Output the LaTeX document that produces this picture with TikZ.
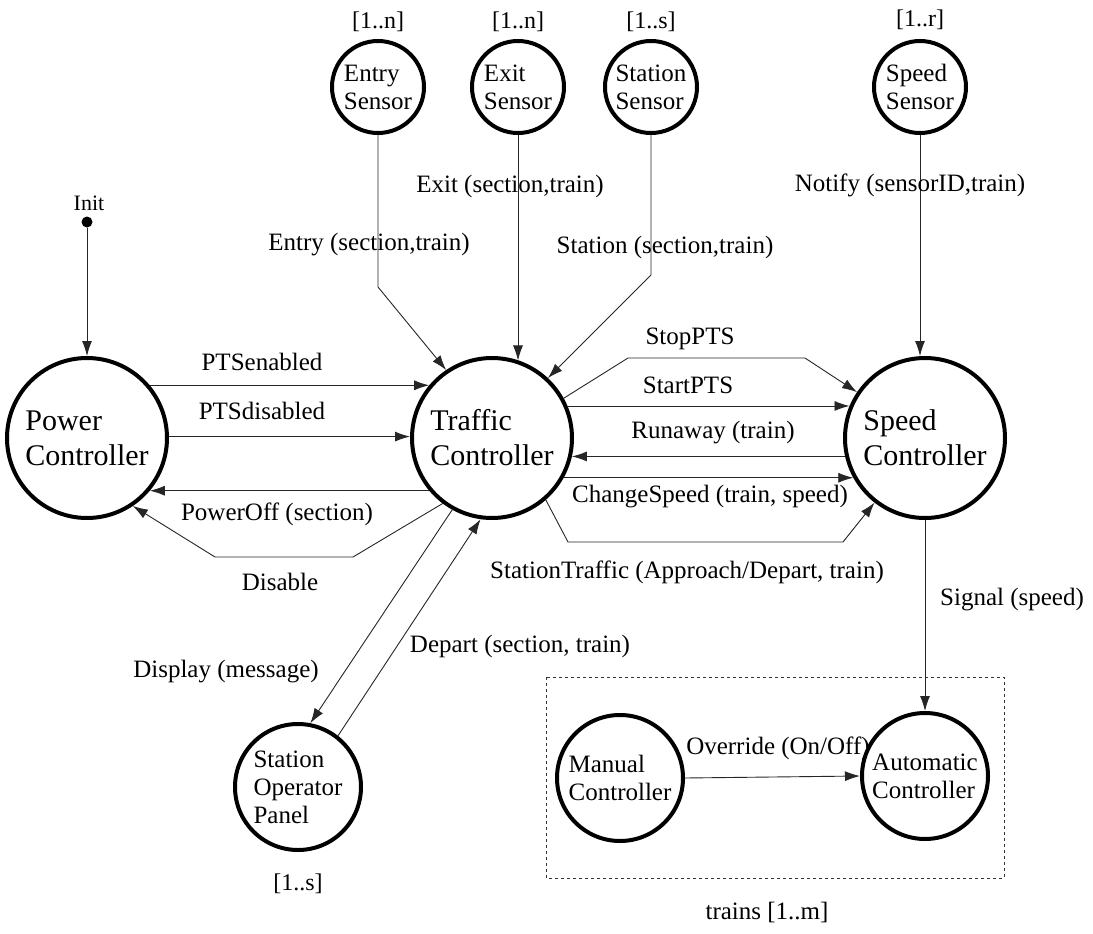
\documentclass[tikz,border=0pt]{standalone}
\usepackage{fontspec}
\setmainfont{Liberation Serif}
\usetikzlibrary{arrows.meta}
\begin{document}
\begin{tikzpicture}[x=1pt,y=-1pt,
  bigproc/.style={circle, draw, line width=4pt, minimum size=160pt, inner sep=0pt, align=left, font=\fontsize{30}{35}\selectfont},
  midproc/.style={circle, draw, line width=4pt, minimum size=126pt, inner sep=0pt, align=left, font=\fontsize{25}{28}\selectfont},
  sensor/.style={circle, draw, line width=4pt, minimum size=92pt, inner sep=0pt, align=left, font=\fontsize{25}{28}\selectfont},
  lbl/.style={inner sep=0pt, font=\fontsize{25}{30}\selectfont},
  mult/.style={inner sep=0pt, font=\fontsize{24}{28}\selectfont},
  msg/.style={line width=0.9pt, black!85, -{Latex[length=15pt,width=10pt]}}]
\useasboundingbox (0,0) rectangle (1093,934);

% processes
\node[bigproc] (P) at (87,438) {Power\\Controller};
\node[bigproc] (T) at (492,438) {Traffic\\Controller};
\node[bigproc] (S) at (925,438) {Speed\\Controller};

% sensors
\node[sensor] (ens) at (378,87) {Entry\\Sensor};
\node[sensor] (xs)  at (518,87) {Exit\\Sensor};
\node[sensor] (ss)  at (651,87) {Station\\Sensor};
\node[sensor] (sps) at (920,87) {Speed\\Sensor};
\node[mult] (m1) at (378,22) {[1..n]};
\node[mult] (m2) at (518,22) {[1..n]};
\node[mult] (m3) at (651,22) {[1..s]};
\node[mult] (m4) at (920,20) {[1..r]};

% station operator panel
\node[midproc] (D) at (298,787) {Station\\Operator\\Panel};
\node[mult] (m5) at (298,884) {[1..s]};

% train controllers
\draw[black!80, line width=0.8pt, dashed] (546,677) rectangle (1004,878);
\node[midproc] (M) at (620,778) {Manual\\Controller};
\node[midproc] (A) at (925,776) {Automatic\\Controller};
\node[lbl] (trains) at (767,912) {trains [1..m]};

% initial state
\node[circle, fill=black, inner sep=0pt, minimum size=11pt] (init) at (87,222) {};
\node[inner sep=0pt, font=\fontsize{22}{26}\selectfont] (initl) at (89,203) {Init};
\draw[msg] (init) -- (P.north);

% sensor messages
\draw[msg] (ens.south) -- ++(0,152) -- (T.124);
\draw[msg] (xs.south) -- (xs.south |- T.71);
\draw[msg] (ss.south) -- ++(0,140) -- (T.47);
\draw[msg] (sps.south) -- (sps.south |- S.north);
\node[lbl] (lentry) at (369,245) {Entry (section,train)};
\node[lbl] (lexit) at (510,186) {Exit (section,train)};
\node[lbl] (lstation) at (665,247) {Station (section,train)};
\node[lbl] (lnotify) at (910,185) {Notify (sensorID,train)};

% power controller <-> traffic controller
\draw[msg] (P.40) -- (T.140);
\draw[msg] (P.1) -- (T.179);
\draw[msg] (T.220) -- (P.320);
\draw[msg] (T.233) -- (353,557) -- (215,557) -- (P.304);
\node[lbl] (lenabled) at (262,362) {PTSenabled};
\node[lbl] (ldisabled) at (262,411) {PTSdisabled};
\node[lbl] (lpoweroff) at (277,514) {PowerOff (section)};
\node[lbl] (ldisable) at (280,582) {Disable};

% traffic controller <-> speed controller
\draw[msg] (T.29) -- (628,358) -- (805,358) -- (S.146);
\draw[msg] (T.23) -- (S.157);
\draw[msg] (S.193) -- (T.347);
\draw[msg] (T.331) -- (S.209);
\draw[msg] (T.311) -- (568,542) -- (843,542) -- (S.232);
\node[lbl] (lstop) at (690,339) {StopPTS};
\node[lbl] (lstart) at (688,385) {StartPTS};
\node[lbl] (lrunaway) at (713,433) {Runaway (train)};
\node[lbl] (lchange) at (710,497) {ChangeSpeed (train, speed)};
\node[lbl] (lsttraffic) at (687,572) {StationTraffic (Approach/Depart, train)};

% traffic controller <-> station operator panel
\draw[msg] (T.241) -- (D.79);
\draw[msg] (D.52) -- (T.262);
\node[lbl] (ldisplay) at (226,672) {Display (message)};
\node[lbl] (ldepart) at (520,646) {Depart (section, train)};

% speed controller -> train
\draw[msg] (S.south) -- (A.north);
\node[lbl] (lsignal) at (1012,600) {Signal (speed)};
\draw[msg] (M.east) -- (A.west);
\node[lbl] (loverride) at (778,748) {Override (On/Off)};
\end{tikzpicture}
\end{document}
